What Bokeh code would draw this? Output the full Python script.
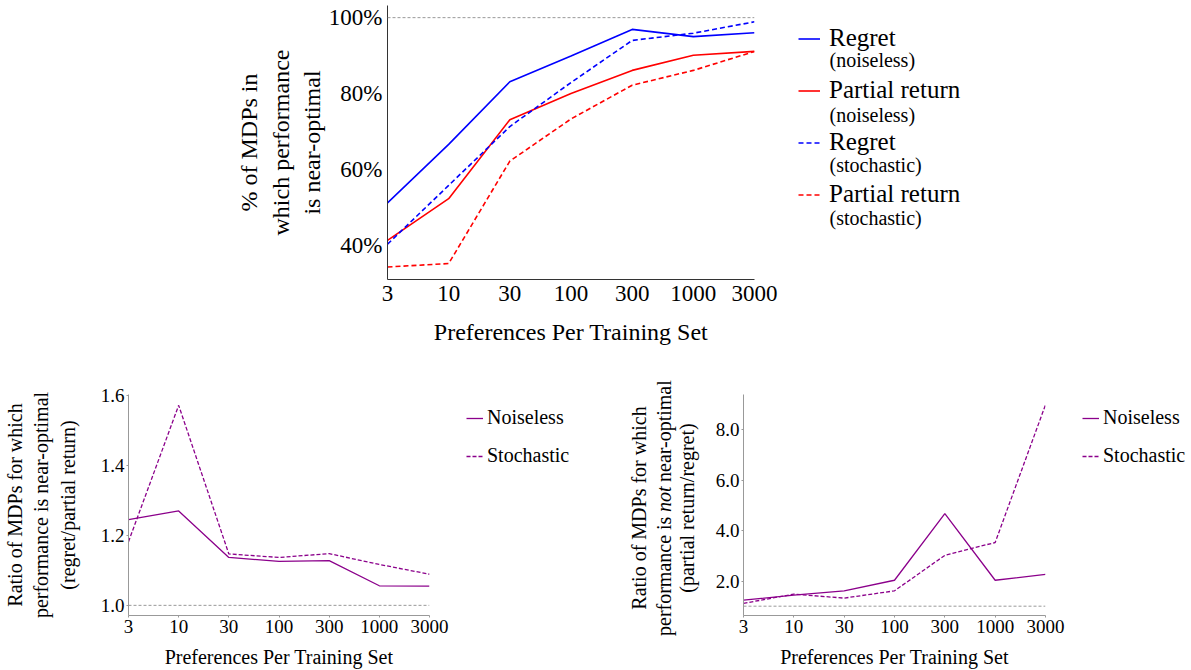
import math
from bokeh.plotting import figure
from bokeh.layouts import column, row
from bokeh.models import (Range1d, FixedTicker, PrintfTickFormatter, Legend,
                          LegendItem, Label, Span)
from bokeh.embed import file_html
from bokeh.resources import INLINE

FONT = "Liberation Serif"

# ---------------- data ----------------
x_labels = ["3", "10", "30", "100", "300", "1000", "3000"]

regret_noiseless = [51.2, 66.6, 83.1, 89.9, 96.9, 95.0, 96.0]
partial_noiseless = [41.3, 52.3, 73.1, 80.0, 86.1, 90.1, 91.1]
regret_stochastic = [40.3, 55.8, 71.3, 82.9, 94.0, 95.9, 98.9]
partial_stochastic = [34.3, 35.2, 62.2, 73.3, 82.2, 86.1, 91.1]

ratio_near_noiseless = [1.245, 1.270, 1.137, 1.126, 1.128, 1.056, 1.055]
ratio_near_stochastic = [1.182, 1.572, 1.147, 1.137, 1.148, 1.117, 1.089]

ratio_not_noiseless = [1.24, 1.44, 1.61, 2.03, 4.68, 2.03, 2.26]
ratio_not_stochastic = [1.11, 1.48, 1.32, 1.61, 3.02, 3.53, 9.00]

top_yticks = [40, 60, 80, 100]
left_yticks = [1.0, 1.2, 1.4, 1.6]
right_yticks = [2.0, 4.0, 6.0, 8.0]

top_legend_labels = ["Regret", "Partial return", "Regret", "Partial return"]
top_legend_sub = ["(noiseless)", "(noiseless)", "(stochastic)", "(stochastic)"]
bottom_legend_labels = ["Noiseless", "Stochastic"]

xs = list(range(len(x_labels)))
overrides = {i: s for i, s in enumerate(x_labels)}

BLUE = "#0000ff"
RED = "#ff0000"
PURPLE = "#8b008b"
REFGRAY = "#999999"


def base_style(p, axis_color, tick_px, title_px, tick_out):
    p.grid.visible = False
    p.outline_line_color = None
    for ax in (p.xaxis[0], p.yaxis[0]):
        ax.axis_line_color = axis_color
        ax.major_tick_line_color = axis_color
        ax.major_tick_in = 0
        ax.major_tick_out = tick_out
        ax.minor_tick_line_color = None
        ax.major_label_text_font = FONT
        ax.major_label_text_font_size = f"{tick_px}px"
        ax.major_label_text_color = "black"
        ax.axis_label_text_font = FONT
        ax.axis_label_text_font_size = f"{title_px}px"
        ax.axis_label_text_font_style = "normal"
        ax.axis_label_text_color = "black"
    p.xaxis[0].ticker = FixedTicker(ticks=xs)
    p.xaxis[0].major_label_overrides = overrides


def blank_fig(width, height):
    # a panel with no axes whose frame covers it entirely; its ranges lie far
    # away from the data, so the series drawn in it only feed the legend
    f = figure(width=width, height=height, x_range=Range1d(100, 101),
               y_range=Range1d(100, 101), x_axis_type=None, y_axis_type=None,
               output_backend="svg", toolbar_location=None, min_border=0)
    f.outline_line_color = None
    f.grid.visible = False
    if "frame_align" in f.properties():
        f.frame_align = False
    return f


# ---------------- top chart ----------------
TOP_H = 366
top = figure(width=784, height=TOP_H, x_range=Range1d(0, 6), y_range=Range1d(31.0, 103.2),
             output_backend="svg", toolbar_location=None,
             min_border_left=387, min_border_right=30, min_border_top=5, min_border_bottom=87)
base_style(top, "#333333", 23, 24, 0)
top.xaxis[0].axis_label = "Preferences Per Training Set"
top.xaxis[0].major_label_standoff = 6
top.xaxis[0].axis_label_standoff = 15
top.yaxis[0].ticker = FixedTicker(ticks=top_yticks)
top.yaxis[0].formatter = PrintfTickFormatter(format="%d%%")
top.yaxis[0].major_label_standoff = 5
top.yaxis[0].axis_label = "% of MDPs in\nwhich performance\nis near-optimal"
top.yaxis[0].axis_label_standoff = 1

top.add_layout(Span(location=100, dimension="width", line_color=REFGRAY,
                    line_dash="3 2", line_width=1))

top_series = [regret_noiseless, partial_noiseless, regret_stochastic, partial_stochastic]
styles = [(BLUE, "solid"), (RED, "solid"), (BLUE, "5 3"), (RED, "5 3")]
for ys, (col, dash) in zip(top_series, styles):
    top.line(xs, ys, line_color=col, line_width=1.6, line_dash=dash)

# legend panel for the top chart
top_leg = blank_fig(1191 - 784, TOP_H)
items = []
for lab, ys, (col, dash) in zip(top_legend_labels, top_series, styles):
    r = top_leg.line(xs, ys, line_color=col, line_width=1.6, line_dash=dash)
    items.append(LegendItem(label=lab, renderers=[r]))
top_leg.add_layout(Legend(items=items, location=(14, 158), padding=0, margin=0, spacing=24,
                          label_height=25, glyph_height=25, glyph_width=22, label_standoff=9,
                          label_text_font=FONT, label_text_font_size="25px",
                          label_text_color="black",
                          border_line_color=None, background_fill_alpha=0))
for txt, yy in zip(top_legend_sub, [307, 252, 202, 149]):
    top_leg.add_layout(Label(x=45, y=yy, x_units="screen", y_units="screen", text=txt,
                             text_font=FONT, text_font_size="20px", text_color="black",
                             text_align="left", text_baseline="middle"))

# ---------------- bottom left ----------------
BOT_H = 670 - TOP_H
bl = figure(width=455, height=BOT_H, x_range=Range1d(0, 6), y_range=Range1d(0.971, 1.603),
            output_backend="svg", toolbar_location=None,
            min_border_left=127, min_border_right=26, min_border_top=28, min_border_bottom=54)
base_style(bl, "#999999", 19, 20, 2)
bl.xaxis[0].axis_label = "Preferences Per Training Set"
bl.xaxis[0].major_label_standoff = 2
bl.xaxis[0].axis_label_standoff = 10
bl.yaxis[0].ticker = FixedTicker(ticks=left_yticks)
bl.yaxis[0].formatter = PrintfTickFormatter(format="%.1f")
bl.yaxis[0].major_label_standoff = 2
bl.yaxis[0].axis_label = "Ratio of MDPs for which\nperformance is near-optimal\n(regret/partial return)"
bl.yaxis[0].axis_label_standoff = 19

bl.add_layout(Span(location=1.0, dimension="width", line_color=REFGRAY,
                   line_dash="3 2", line_width=1))
bl.line(xs, ratio_near_noiseless, line_color=PURPLE, line_width=1.3)
bl.line(xs, ratio_near_stochastic, line_color=PURPLE, line_width=1.3, line_dash="4 2")


def small_legend(width, x_off, series):
    f = blank_fig(width, BOT_H)
    its = []
    for lab, ys, dash in zip(bottom_legend_labels, series, ["solid", "4 2"]):
        r = f.line(xs, ys, line_color=PURPLE, line_width=1.3, line_dash=dash)
        its.append(LegendItem(label=lab, renderers=[r]))
    f.add_layout(Legend(items=its, location=(x_off, 203), padding=0, margin=0, spacing=15,
                        label_height=20, glyph_height=20, glyph_width=17, label_standoff=4,
                        label_text_font=FONT, label_text_font_size="20px",
                        label_text_color="black",
                        border_line_color=None, background_fill_alpha=0))
    return f


bl_leg = small_legend(608 - 455, 11, [ratio_near_noiseless, ratio_near_stochastic])

# ---------------- bottom right ----------------
br_lab = blank_fig(705 - 608, BOT_H)
ymid = 670 - 507.5
ylab_parts = [
    ("Ratio of MDPs for which", 30, ymid, "center", "normal"),
    ("performance is", 55, ymid - 128, "left", "normal"),
    ("not", 55, ymid - 4, "left", "italic"),
    ("near-optimal", 55, ymid + 26, "left", "normal"),
    ("(partial return/regret)", 78, ymid, "center", "normal"),
]
for txt, xx, yy, align, style in ylab_parts:
    br_lab.add_layout(Label(x=xx, y=yy, x_units="screen", y_units="screen",
                            text=txt, angle=math.pi / 2, text_font=FONT,
                            text_font_size="20px", text_font_style=style,
                            text_color="black",
                            text_align=align, text_baseline="middle"))

br = figure(width=364, height=BOT_H, x_range=Range1d(0, 6), y_range=Range1d(0.63, 9.41),
            output_backend="svg", toolbar_location=None,
            min_border_left=38, min_border_right=24, min_border_top=28, min_border_bottom=54)
base_style(br, "#999999", 19, 20, 2)
br.xaxis[0].axis_label = "Preferences Per Training Set"
br.xaxis[0].major_label_standoff = 2
br.xaxis[0].axis_label_standoff = 10
br.yaxis[0].ticker = FixedTicker(ticks=right_yticks)
br.yaxis[0].formatter = PrintfTickFormatter(format="%.1f")
br.yaxis[0].major_label_standoff = 2

br.add_layout(Span(location=1.0, dimension="width", line_color=REFGRAY,
                   line_dash="3 2", line_width=1))
br.line(xs, ratio_not_noiseless, line_color=PURPLE, line_width=1.3)
br.line(xs, ratio_not_stochastic, line_color=PURPLE, line_width=1.3, line_dash="4 2")

br_leg = small_legend(1191 - 705 - 364, 13, [ratio_not_noiseless, ratio_not_stochastic])

layout = column(row(top, top_leg), row(bl, bl_leg, br_lab, br, br_leg))
open("out.html", "w").write(file_html(layout, INLINE))
